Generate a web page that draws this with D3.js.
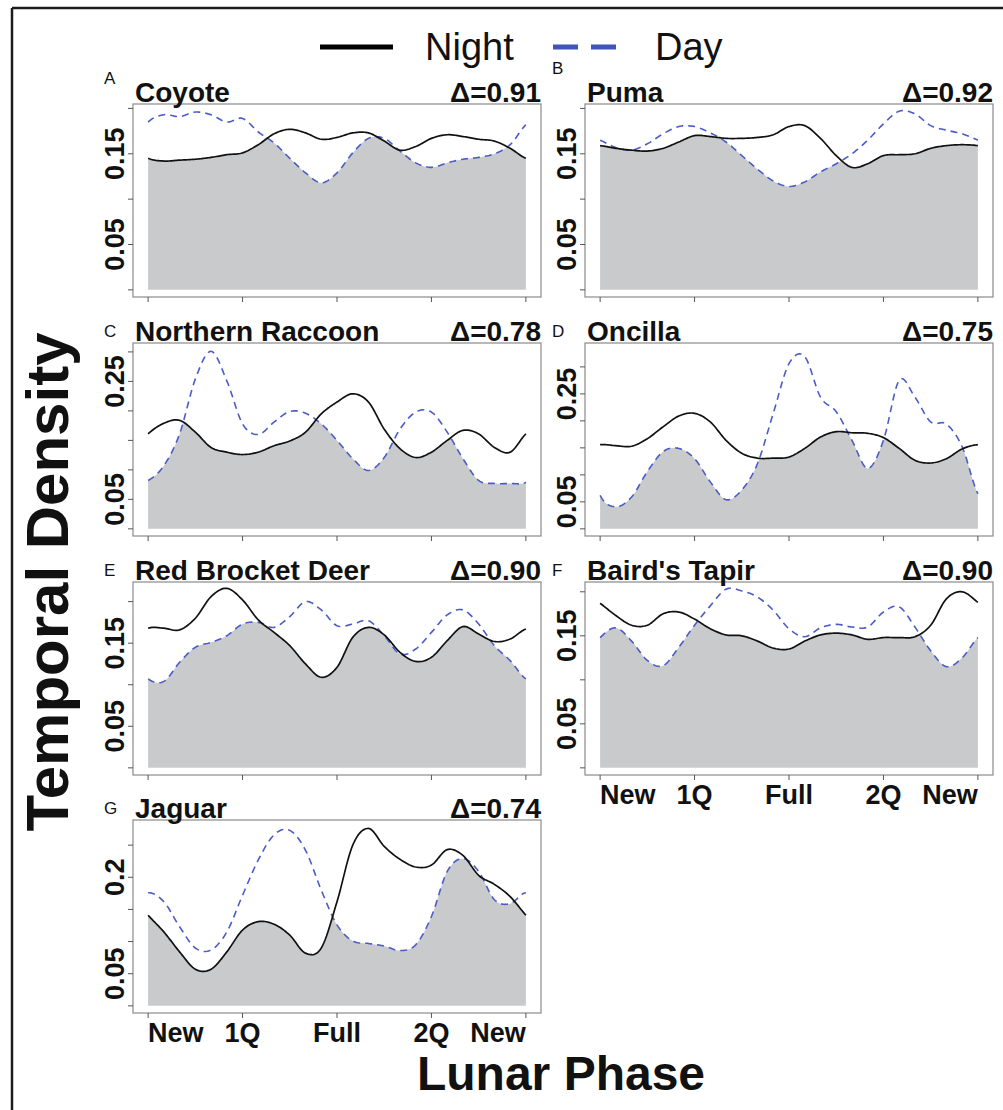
<!DOCTYPE html>
<html><head><meta charset="utf-8">
<script src="https://cdn.jsdelivr.net/npm/d3@7"></script>
<style>body{margin:0;background:#fff}svg{display:block}</style>
</head><body>
<svg id="c" width="1003" height="1110"></svg>
<script>
// ---------------- DATA ----------------
const phaseDeg = [0,15,30,45,60,75,90,105,120,135,150,165,180,195,210,225,240,255,270,285,300,315,330,345,360];
const phaseTicks = [0,90,180,270,360];
const phaseLabels = ["New","1Q","Full","2Q","New"];
const species = ["Coyote","Puma","Northern Raccoon","Oncilla","Red Brocket Deer","Baird's Tapir","Jaguar"];
const panelLetters = ["A","B","C","D","E","F","G"];
const overlapDelta = [0.91,0.92,0.78,0.75,0.90,0.90,0.74];
const densityMax = [0.197,0.197,0.303,0.331,0.215,0.203,0.278];
const yTickLabels = [["0.05","0.15"],["0.05","0.15"],["0.05","0.25"],["0.05","0.25"],["0.05","0.15"],["0.05","0.15"],["0.05","0.2"]];

const nightA = [0.145,0.142,0.143,0.144,0.146,0.149,0.151,0.160,0.172,0.177,0.173,0.166,0.168,0.173,0.173,0.164,0.154,0.158,0.167,0.171,0.169,0.166,0.164,0.156,0.145];
const dayA   = [0.185,0.193,0.191,0.196,0.193,0.185,0.189,0.174,0.162,0.145,0.129,0.118,0.129,0.151,0.167,0.167,0.153,0.140,0.135,0.140,0.144,0.146,0.150,0.160,0.182];
const nightB = [0.159,0.156,0.154,0.153,0.156,0.163,0.170,0.169,0.167,0.167,0.168,0.171,0.180,0.181,0.167,0.148,0.135,0.139,0.148,0.149,0.150,0.156,0.159,0.160,0.159];
const dayB   = [0.165,0.157,0.154,0.161,0.172,0.180,0.180,0.173,0.163,0.148,0.133,0.120,0.114,0.119,0.130,0.139,0.150,0.165,0.183,0.197,0.194,0.181,0.176,0.172,0.165];
const nightC = [0.161,0.179,0.184,0.164,0.138,0.130,0.126,0.130,0.141,0.149,0.164,0.195,0.215,0.229,0.215,0.169,0.136,0.121,0.130,0.150,0.167,0.161,0.138,0.130,0.161];
const dayC   = [0.082,0.107,0.161,0.254,0.301,0.251,0.178,0.160,0.181,0.199,0.196,0.178,0.150,0.119,0.099,0.121,0.169,0.198,0.198,0.164,0.119,0.082,0.077,0.077,0.079];
const nightD = [0.156,0.154,0.153,0.167,0.189,0.209,0.214,0.198,0.164,0.140,0.131,0.131,0.133,0.149,0.170,0.180,0.178,0.177,0.169,0.149,0.127,0.122,0.130,0.148,0.156];
const dayD   = [0.062,0.041,0.059,0.106,0.143,0.149,0.130,0.087,0.054,0.072,0.121,0.214,0.306,0.319,0.244,0.217,0.164,0.112,0.164,0.275,0.244,0.198,0.194,0.152,0.065];
const nightE = [0.168,0.168,0.166,0.180,0.206,0.216,0.202,0.178,0.163,0.147,0.125,0.109,0.121,0.157,0.169,0.160,0.139,0.128,0.133,0.153,0.170,0.161,0.152,0.155,0.167];
const dayE   = [0.107,0.104,0.127,0.145,0.151,0.159,0.173,0.175,0.169,0.182,0.200,0.190,0.171,0.173,0.177,0.159,0.137,0.143,0.163,0.184,0.190,0.173,0.147,0.129,0.107];
const nightF = [0.187,0.173,0.162,0.162,0.175,0.177,0.169,0.158,0.151,0.150,0.144,0.136,0.135,0.144,0.151,0.153,0.151,0.146,0.148,0.148,0.149,0.162,0.192,0.200,0.188];
const dayF   = [0.148,0.159,0.144,0.122,0.116,0.137,0.162,0.184,0.203,0.201,0.194,0.179,0.158,0.149,0.159,0.163,0.160,0.160,0.177,0.183,0.160,0.133,0.115,0.125,0.148];
const nightG = [0.141,0.115,0.084,0.057,0.057,0.084,0.118,0.131,0.127,0.110,0.082,0.090,0.162,0.250,0.276,0.248,0.228,0.216,0.219,0.243,0.234,0.203,0.189,0.170,0.141];
const dayG   = [0.176,0.162,0.123,0.090,0.087,0.115,0.172,0.227,0.266,0.273,0.242,0.180,0.126,0.101,0.097,0.093,0.086,0.095,0.139,0.209,0.229,0.209,0.165,0.159,0.176];

const nightSeries = [nightA,nightB,nightC,nightD,nightE,nightF,nightG];
const daySeries   = [dayA,dayB,dayC,dayD,dayE,dayF,dayG];

// ---------------- LAYOUT ----------------
const FONT = "'Liberation Sans', Arial, Helvetica, sans-serif";
const DAYCOL = "#4a5cc6";
const colLeft = [133, 585];
const rowTop = [104, 343, 582, 820];
const boxW = 408, boxH = 193;

const svg = d3.select("#c");
svg.append("rect").attr("width",1003).attr("height",1110).attr("fill","#fff");

// outer frame (top & left visible)
svg.append("line").attr("x1",12).attr("x2",1003).attr("y1",8).attr("y2",8).attr("stroke","#1c1c1c").attr("stroke-width",2.5);
svg.append("line").attr("x1",12).attr("x2",12).attr("y1",8).attr("y2",1110).attr("stroke","#1c1c1c").attr("stroke-width",2.5);

// Catmull-Rom resampling on circular data
function resample(vals, per){
  const L = vals.length;
  const get = i => i < 0 ? vals[L-1+i] : (i > L-1 ? vals[i-(L-1)] : vals[i]);
  const out = [];
  for (let k=0;k<L-1;k++){
    const p0=get(k-1),p1=get(k),p2=get(k+1),p3=get(k+2);
    for (let s=0;s<per;s++){
      const t=s/per;
      const v=0.5*((2*p1)+(-p0+p2)*t+(2*p0-5*p1+4*p2-p3)*t*t+(-p0+3*p1-3*p2+p3)*t*t*t);
      out.push([phaseDeg[k]+t*(phaseDeg[k+1]-phaseDeg[k]), v]);
    }
  }
  out.push([phaseDeg[L-1], vals[L-1]]);
  return out;
}

species.forEach((name,i)=>{
  const col = i%2, row = Math.floor(i/2);
  const L = colLeft[col], T = rowTop[row];
  const M = densityMax[i];
  const x = d3.scaleLinear().domain([-0.04*360, 1.04*360]).range([L, L+boxW]);
  const y = d3.scaleLinear().domain([-0.04*M, 1.04*M]).range([T+boxH, T]);
  const g = svg.append("g");

  const nd = resample(nightSeries[i], 12);
  const dd = resample(daySeries[i], 12);
  const both = nd.map((p,k)=>[p[0], p[1], dd[k][1]]);

  g.append("path").datum(both)
    .attr("d", d3.area().x(d=>x(d[0])).y0(y(0)).y1(d=>y(Math.min(d[1],d[2]))))
    .attr("fill","#c9cacc");

  g.append("path").datum(dd)
    .attr("d", d3.line().x(d=>x(d[0])).y(d=>y(d[1])))
    .attr("fill","none").attr("stroke",DAYCOL).attr("stroke-width",1.6)
    .attr("stroke-dasharray","7,5");
  g.append("path").datum(nd)
    .attr("d", d3.line().x(d=>x(d[0])).y(d=>y(d[1])))
    .attr("fill","none").attr("stroke","#111").attr("stroke-width",1.7);

  g.append("rect").attr("x",L).attr("y",T).attr("width",boxW).attr("height",boxH)
    .attr("fill","none").attr("stroke","#8a8a8a").attr("stroke-width",1.2);

  const yt = d3.range(0, 1.04*M + 1e-9, 0.05).map(v=>+v.toFixed(2));
  g.selectAll(".yt").data(yt).enter().append("line")
    .attr("x1",L-5).attr("x2",L).attr("y1",d=>y(d)).attr("y2",d=>y(d))
    .attr("stroke","#555").attr("stroke-width",1);
  yTickLabels[i].forEach(lab=>{
    g.append("text").attr("transform",`translate(${L-9},${y(+lab)}) rotate(-90)`)
      .attr("text-anchor","middle").attr("font-family",FONT).attr("font-weight","bold")
      .attr("font-size",27).attr("fill","#111").text(lab);
  });

  g.selectAll(".xt").data(phaseTicks).enter().append("line")
    .attr("x1",d=>x(d)).attr("x2",d=>x(d)).attr("y1",T+boxH).attr("y2",T+boxH+5)
    .attr("stroke","#555").attr("stroke-width",1);
  if (i>=5){
    phaseTicks.forEach((d,k)=>{
      g.append("text").attr("x",x(d)).attr("y",T+boxH+29)
        .attr("text-anchor", k===0?"start":(k===phaseTicks.length-1?"end":"middle"))
        .attr("font-family",FONT).attr("font-weight","bold").attr("font-size",27)
        .attr("fill","#111").text(phaseLabels[k]);
    });
  }

  g.append("text").attr("x", col===0?104:552).attr("y", row===0 ? (col===0?84:74) : T-6)
    .attr("font-family",FONT).attr("font-size",17).attr("fill","#111").text(panelLetters[i]);
  g.append("text").attr("x",L+2).attr("y",T-2)
    .attr("font-family",FONT).attr("font-weight","bold").attr("font-size",28)
    .attr("fill","#111").text(name);
  g.append("text").attr("x",L+boxW).attr("y",T-2).attr("text-anchor","end")
    .attr("font-family",FONT).attr("font-weight","bold").attr("font-size",28)
    .attr("fill","#111").text("\u0394=" + overlapDelta[i].toFixed(2));
});

// legend
svg.append("line").attr("x1",320).attr("x2",393).attr("y1",47).attr("y2",47)
  .attr("stroke","#000").attr("stroke-width",5);
svg.append("text").attr("x",425).attr("y",60).attr("font-family",FONT).attr("font-size",38)
  .attr("fill","#111").text("Night");
svg.append("line").attr("x1",553).attr("x2",616).attr("y1",47).attr("y2",47)
  .attr("stroke","#3f56b8").attr("stroke-width",5).attr("stroke-dasharray","25,13");
svg.append("text").attr("x",655).attr("y",60).attr("font-family",FONT).attr("font-size",38)
  .attr("fill","#111").text("Day");

// axis titles
svg.append("text").attr("transform","translate(68,582) rotate(-90)").attr("text-anchor","middle")
  .attr("font-family",FONT).attr("font-weight","bold").attr("font-size",60).attr("fill","#111")
  .text("Temporal Density");
svg.append("text").attr("x",561).attr("y",1090).attr("text-anchor","middle")
  .attr("font-family",FONT).attr("font-weight","bold").attr("font-size",48).attr("fill","#111")
  .text("Lunar Phase");
</script>
</body></html>
